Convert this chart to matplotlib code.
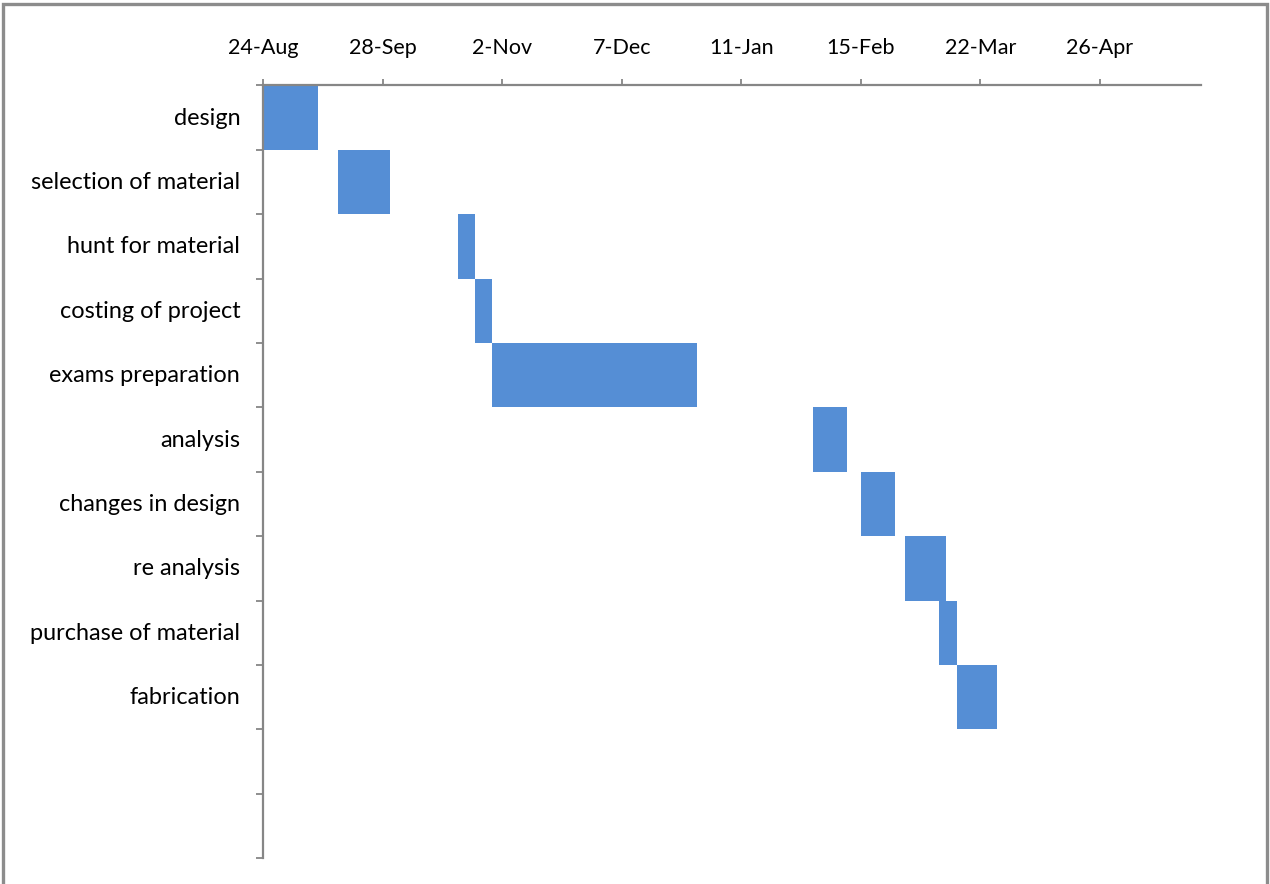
import datetime as dt
import matplotlib
matplotlib.use("Agg")
import matplotlib.pyplot as plt
import matplotlib.dates as mdates
from matplotlib.lines import Line2D
from matplotlib.transforms import ScaledTranslation

# Project schedule
tasks = ["design", "selection of material", "hunt for material", "costing of project",
         "exams preparation", "analysis", "changes in design", "re analysis",
         "purchase of material", "fabrication", "", ""]
start_dates = ["2014-08-24", "2014-09-15", "2014-10-20", "2014-10-25", "2014-10-30",
               "2015-02-01", "2015-02-15", "2015-02-28", "2015-03-10", "2015-03-15"]
durations_days = [16, 15, 5, 5, 60, 10, 10, 12, 5, 12]
tick_labels = ["24-Aug", "28-Sep", "2-Nov", "7-Dec", "11-Jan", "15-Feb", "22-Mar", "26-Apr"]

axis_start = dt.date(2014, 8, 24)
axis_span_days = 274.6
tick_step_days = 35

bar_color = "#558ED5"
axis_color = "#868686"

plt.rcParams["font.family"] = ["Lato", "DejaVu Sans"]

fig = plt.figure(figsize=(12.70, 8.84), dpi=100)
W, H = 1270, 884
ax = fig.add_axes([263.3 / W, 1 - 858.3 / H, (1201 - 263.3) / W, (858.3 - 85.3) / H])

x0 = mdates.date2num(axis_start)
starts = [mdates.date2num(dt.date.fromisoformat(s)) for s in start_dates]
ax.barh([i + 0.5 for i in range(len(starts))], durations_days, left=starts,
        height=1.0, color=bar_color, linewidth=0)

ax.set_xlim(x0, x0 + axis_span_days)
ax.set_ylim(len(tasks), 0)

# date axis on top
ax.xaxis.tick_top()
ax.set_xticks([x0 + k * tick_step_days for k in range(len(tick_labels))])
ax.set_xticklabels(tick_labels)
ax.tick_params(axis="x", direction="out", length=4.3, width=1.3, color=axis_color,
               pad=15.5, labelsize=15.5, labelcolor="black")

# category axis: ticks at row boundaries, labels centred in rows
ax.set_yticks(range(len(tasks) + 1))
ax.set_yticklabels([])
ax.set_yticks([i + 0.5 for i in range(len(tasks))], minor=True)
ax.set_yticklabels(tasks, minor=True)
ax.tick_params(axis="y", which="major", direction="out", length=5, width=1.3,
               color=axis_color)
ax.tick_params(axis="y", which="minor", length=0, pad=16.6, labelsize=16.9,
               labelcolor="black")
lift = ScaledTranslation(0, 1.5 / 100, fig.dpi_scale_trans)
for lbl in ax.get_yticklabels(minor=True):
    lbl.set_transform(lbl.get_transform() + lift)

for side in ("right", "bottom"):
    ax.spines[side].set_visible(False)
for side in ("top", "left"):
    ax.spines[side].set_color(axis_color)
    ax.spines[side].set_linewidth(1.6)

# chart-area frame
bx0, bx1, by1 = 2.5 / W, 1267 / W, 1 - 4 / H
fig.add_artist(Line2D([bx0, bx0, bx1, bx1], [0, by1, by1, 0], transform=fig.transFigure,
                      color="#8C8C8C", linewidth=2.4, solid_joinstyle="miter"))

fig.savefig("out.png", dpi=100)
